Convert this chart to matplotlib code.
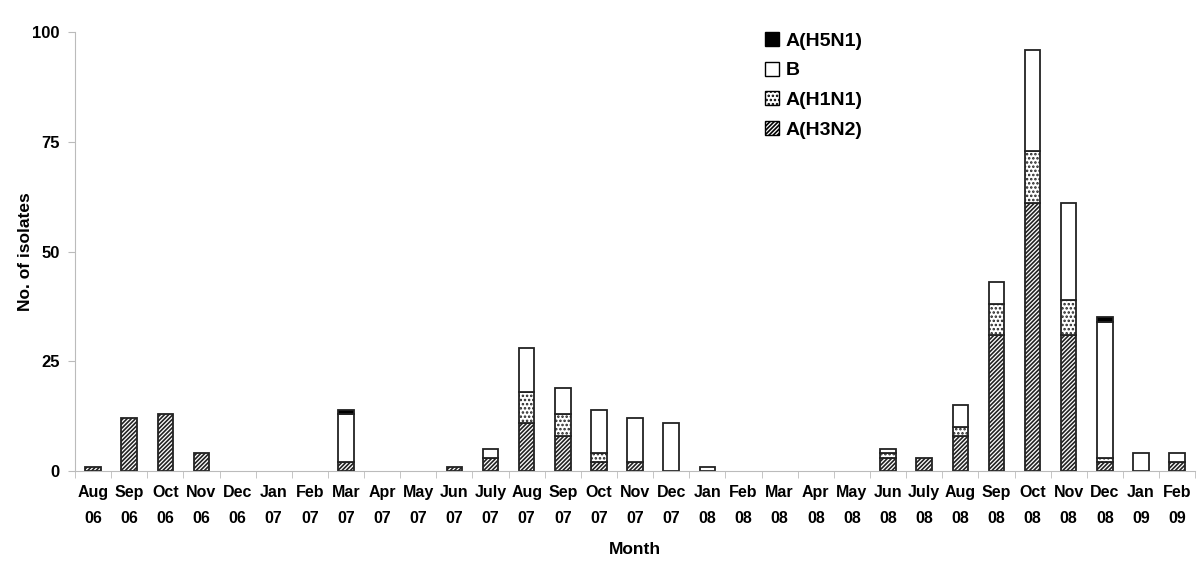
import matplotlib
matplotlib.use("Agg")
import matplotlib.pyplot as plt
import numpy as np
from matplotlib.patches import Patch

months = ["Aug\n06", "Sep\n06", "Oct\n06", "Nov\n06", "Dec\n06", "Jan\n07", "Feb\n07", "Mar\n07",
          "Apr\n07", "May\n07", "Jun\n07", "July\n07", "Aug\n07", "Sep\n07", "Oct\n07", "Nov\n07",
          "Dec\n07", "Jan\n08", "Feb\n08", "Mar\n08", "Apr\n08", "May\n08", "Jun\n08", "July\n08",
          "Aug\n08", "Sep\n08", "Oct\n08", "Nov\n08", "Dec\n08", "Jan\n09", "Feb\n09"]
h3n2 = [1, 12, 13, 4, 0, 0, 0, 2, 0, 0, 1, 3, 11, 8, 2, 2, 0, 0, 0, 0, 0, 0, 3, 3, 8, 31, 61, 31, 2, 0, 2]
h1n1 = [0, 0, 0, 0, 0, 0, 0, 0, 0, 0, 0, 0, 7, 5, 2, 0, 0, 0, 0, 0, 0, 0, 1, 0, 2, 7, 12, 8, 1, 0, 0]
b    = [0, 0, 0, 0, 0, 0, 0, 11, 0, 0, 0, 2, 10, 6, 10, 10, 11, 1, 0, 0, 0, 0, 1, 0, 5, 5, 23, 22, 31, 4, 2]
h5n1 = [0, 0, 0, 0, 0, 0, 0, 1, 0, 0, 0, 0, 0, 0, 0, 0, 0, 0, 0, 0, 0, 0, 0, 0, 0, 0, 0, 0, 1, 0, 0]
yticks = [0, 25, 50, 75, 100]

plt.rcParams['font.family'] = ['Liberation Sans', 'DejaVu Sans']
plt.rcParams['font.weight'] = 'bold'
plt.rcParams['hatch.linewidth'] = 1.2

fig = plt.figure(figsize=(12, 5.72), dpi=100)
ax = fig.add_axes([0.0625, 0.1766, 0.9335, 0.7674])

x = np.arange(len(months))
w = 0.43
h3n2 = np.array(h3n2); h1n1 = np.array(h1n1); b = np.array(b); h5n1 = np.array(h5n1)

def bars(vals, bottom, **kw):
    m = vals > 0
    return ax.bar(x[m], vals[m], w, bottom=bottom[m], edgecolor='#222222', linewidth=1.3, **kw)

zero = np.zeros(len(x))
bars(h3n2, zero, color='white', hatch='////////')
bars(h1n1, h3n2, color='white', hatch='....')
bars(b, h3n2 + h1n1, color='white')
bars(h5n1, h3n2 + h1n1 + b, color='black')

handles = [Patch(facecolor='black', edgecolor='black', label='A(H5N1)'),
           Patch(facecolor='white', edgecolor='black', label='B'),
           Patch(facecolor='white', edgecolor='black', hatch='....', label='A(H1N1)'),
           Patch(facecolor='white', edgecolor='black', hatch='////////', label='A(H3N2)')]
ax.legend(handles=handles, loc='upper left', bbox_to_anchor=(0.6, 1.04), frameon=False,
          prop={'weight': 'bold', 'size': 14}, handlelength=0.75, handleheight=0.75,
          handletextpad=0.35, labelspacing=0.6)

ax.set_xlim(-0.5, len(months) - 0.5)
ax.set_ylim(0, 100)
ax.set_yticks(yticks)
ax.set_yticklabels([str(v) for v in yticks], fontsize=12, fontweight='bold')
ax.set_xticks(x)
ax.set_xticklabels(months, fontsize=11.5, fontweight='bold', linespacing=1.9)
ax.tick_params(axis='x', length=0, pad=10)
ax.set_xticks(np.arange(len(months) + 1) - 0.5, minor=True)
ax.tick_params(axis='x', which='minor', length=5, color='#bbbbbb', direction='out')
ax.tick_params(axis='y', length=5, color='#bbbbbb', direction='out', pad=6)
for s in ['top', 'right']:
    ax.spines[s].set_visible(False)
for s in ['left', 'bottom']:
    ax.spines[s].set_color('#bbbbbb')
    ax.spines[s].set_linewidth(0.8)

ax.set_ylabel('No. of isolates', fontsize=12.5, fontweight='bold')
ax.yaxis.set_label_coords(-0.0375, 0.5)
ax.set_xlabel('Month', fontsize=12.5, fontweight='bold', labelpad=12)

fig.savefig('out.png', dpi=100)
